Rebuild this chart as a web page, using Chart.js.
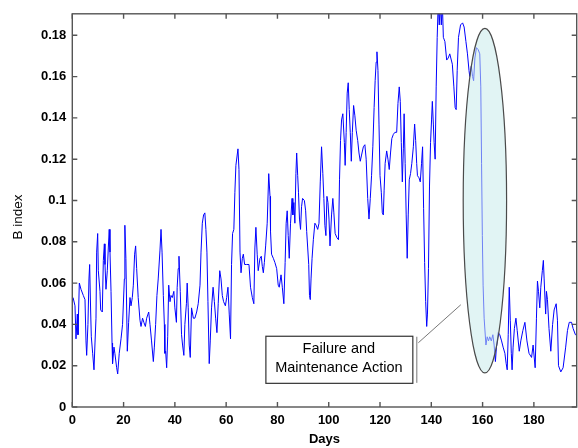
<!DOCTYPE html>
<html>
<head>
<meta charset="utf-8">
<title>B index</title>
<script src="https://cdn.jsdelivr.net/npm/chart.js@4.4.1/dist/chart.umd.min.js"></script>
<style>
  html, body { margin: 0; padding: 0; background: #fff; }
  #chart { display: block; }
</style>
</head>
<body>
<canvas id="chart" width="578" height="448"></canvas>
<script>
// readings, one vertex of the trace per entry
const days = [
  0.3,1.05,1.44,1.96,2.22,2.74,3.39,4.3,4.95,5.34,
  5.6,6.1,6.5,6.77,7.16,7.42,7.94,8.46,8.85,9.24,
  9.5,9.9,10.15,10.8,11.06,11.7,12.1,12.5,12.75,13.13,
  13.65,14.04,14.4,14.7,15.1,15.5,15.7,16.25,16.6,17.3,
  17.7,18.3,19.0,19.6,20.3,20.5,20.9,21.45,21.97,22.5,
  22.9,23.4,23.8,24.3,24.7,25.1,25.7,26.4,26.8,27.4,
  27.9,28.5,29.0,29.8,
  30.3,30.9,31.6,32.0,32.5,33.0,33.5,34.2,34.6,35.0,
  35.5,35.9,36.1,36.4,36.8,37.2,37.6,38.1,38.5,39.0,
  39.6,40.0,40.6,40.9,41.3,41.6,42.1,42.6,43.0,43.5,
  43.9,44.5,44.8,45.2,45.6,46.0,46.5,47.2,47.8,48.5,
  49.1,49.8,50.2,50.7,51.2,51.7,52.1,52.5,52.9,53.4,
  53.8,54.3,54.9,55.4,55.9,56.4,56.9,57.5,58.0,
  58.5,59.0,59.7,60.2,60.7,61.2,61.7,62.1,62.5,63.0,
  63.4,63.8,64.6,65.0,65.4,65.8,66.3,66.7,67.2,68.0,
  68.9,69.5,70.2,70.8,71.2,71.6,72.1,72.5,73.2,73.7,
  74.1,74.5,74.9,75.4,76.0,76.6,77.1,77.3,77.7,78.4,
  79.0,79.7,80.3,80.7,81.4,81.9,82.5,83.0,83.4,83.8,
  84.2,84.6,85.1,85.7,86.0,86.4,86.8,
  87.2,87.5,87.9,88.2,88.6,89.0,89.4,89.8,90.5,91.0,
  91.4,91.8,92.2,92.5,92.8,93.1,93.5,94.0,94.6,95.1,
  95.7,96.2,96.7,97.2,97.7,98.1,98.5,98.9,99.3,99.7,
  100.1,100.5,101.1,101.6,102.0,102.5,103.2,103.8,104.2,104.6,
  105.0,105.5,106.1,106.4,106.8,107.2,107.6,108.0,108.4,108.8,
  109.2,109.7,110.2,110.7,111.3,111.8,112.3,112.8,113.5,114.1,
  114.6,115.2,115.7,116.2,116.7,117.2,
  117.7,118.1,118.5,118.8,119.2,119.6,120.0,120.5,120.9,121.3,
  121.6,122.0,122.6,123.1,123.6,124.1,124.6,125.2,125.8,126.5,
  127.0,127.5,127.9,128.3,128.7,129.1,129.4,129.8,130.2,130.6,
  131.0,131.4,131.9,132.4,133.0,133.5,133.9,134.3,134.6,135.2,
  135.7,136.2,136.6,137.0,137.4,137.8,138.2,138.5,138.9,139.3,
  139.7,140.1,140.4,140.8,141.1,141.5,141.9,142.3,142.7,143.1,
  143.5,143.9,144.3,144.7,145.3,146.0,146.6,147.2,148.2,148.8,
  149.3,149.7,150.1,150.6,151.4,152.2,152.8,153.5,154.1,154.7,
  155.0,155.6,156.1,156.5,157.0,157.6,158.3,158.9,159.3,
  159.6,159.9,160.2,160.6,161.3,161.8,162.3,162.8,163.4,164.0,
  164.5,165.0,165.4,166.1,166.7,167.4,168.0,168.7,169.2,169.6,
  170.0,170.4,170.8,171.2,171.5,171.9,172.4,173.0,173.5,174.3,
  174.9,175.7,176.5,177.3,178.1,179.1,179.7,180.5,181.0,181.4,
  181.8,182.3,182.7,183.3,183.7,184.0,184.6,184.9,185.3,185.9,
  186.6,187.3,187.9,188.7,189.2,189.6,190.5,191.4,192.4,193.1,
  193.8,194.7,195.3,196.2,196.7
];
const bIndex = [
  0.053,0.049,0.033,0.045,0.035,0.060,0.057,0.054,0.052,0.032,
  0.025,0.040,0.062,0.069,0.046,0.034,0.026,0.018,0.031,0.043,
  0.075,0.084,0.066,0.056,0.047,0.046,0.071,0.079,0.069,0.057,
  0.066,0.077,0.086,0.075,0.056,0.031,0.021,0.029,0.026,0.019,
  0.016,0.026,0.033,0.040,0.062,0.088,0.072,0.027,0.041,0.053,
  0.049,0.053,0.059,0.074,0.078,0.067,0.053,0.042,0.039,0.043,
  0.041,0.039,0.043,0.046,
  0.040,0.032,0.022,0.029,0.040,0.054,0.062,0.076,0.086,0.075,
  0.054,0.040,0.026,0.027,0.019,0.034,0.059,0.051,0.054,0.053,
  0.056,0.048,0.041,0.058,0.067,0.073,0.056,0.035,0.030,0.025,
  0.040,0.050,0.060,0.048,0.030,0.024,0.048,0.043,0.043,0.046,
  0.050,0.059,0.075,0.089,0.093,0.094,0.086,0.075,0.051,0.021,
  0.032,0.048,0.058,0.051,0.043,0.036,0.050,0.066,0.062,
  0.054,0.051,0.049,0.053,0.058,0.045,0.033,0.069,0.084,0.086,
  0.104,0.117,0.125,0.115,0.075,0.065,0.072,0.074,0.069,0.069,
  0.069,0.058,0.053,0.050,0.077,0.087,0.074,0.066,0.072,0.073,
  0.068,0.065,0.070,0.078,0.089,0.113,0.102,0.085,0.074,0.072,
  0.070,0.067,0.059,0.058,0.064,0.058,0.050,0.070,0.089,0.095,
  0.083,0.072,0.089,0.101,0.093,0.099,0.089,
  0.113,0.123,0.112,0.104,0.091,0.086,0.097,0.101,0.100,0.095,
  0.085,0.077,0.069,0.054,0.052,0.062,0.072,0.081,0.089,0.088,
  0.086,0.089,0.109,0.126,0.113,0.101,0.088,0.083,0.102,0.099,
  0.091,0.078,0.093,0.101,0.094,0.084,0.082,0.081,0.110,0.129,
  0.139,0.142,0.128,0.117,0.133,0.152,0.157,0.144,0.133,0.119,
  0.133,0.146,0.141,0.134,0.129,0.123,0.119,0.122,0.126,0.127,
  0.120,0.101,0.091,0.101,0.112,0.126,
  0.145,0.158,0.167,0.172,0.163,0.137,0.112,0.104,0.094,0.093,
  0.105,0.118,0.124,0.120,0.115,0.123,0.130,0.132,0.133,0.133,
  0.147,0.155,0.148,0.128,0.109,0.125,0.142,0.118,0.093,0.072,
  0.093,0.110,0.113,0.118,0.126,0.137,0.129,0.118,0.112,0.111,
  0.109,0.118,0.126,0.096,0.070,0.051,0.039,0.045,0.067,0.107,
  0.128,0.139,0.148,0.137,0.128,0.120,0.155,0.179,0.196,0.185,
  0.196,0.185,0.196,0.179,0.177,0.168,0.169,0.171,0.166,0.155,
  0.145,0.144,0.163,0.179,0.185,0.186,0.184,0.177,0.171,0.163,
  0.160,0.165,0.160,0.158,0.169,0.174,0.173,0.171,0.155,
  0.118,0.083,0.059,0.043,0.030,0.034,0.032,0.034,0.032,0.035,
  0.030,0.022,0.029,0.036,0.035,0.032,0.029,0.026,0.021,0.018,
  0.035,0.058,0.042,0.026,0.018,0.029,0.038,0.043,0.037,0.027,
  0.032,0.037,0.041,0.032,0.026,0.024,0.030,0.019,0.043,0.061,
  0.056,0.048,0.058,0.066,0.071,0.062,0.045,0.056,0.052,0.038,
  0.027,0.040,0.047,0.050,0.042,0.020,0.017,0.019,0.029,0.037,
  0.041,0.041,0.038,0.035,0.035
];
const xTicks = [0, 20, 40, 60, 80, 100, 120, 140, 160, 180];
const yTicks = [0, 0.02, 0.04, 0.06, 0.08, 0.1, 0.12, 0.14, 0.16, 0.18];

// annotation, in data units
const failureZone = { day: 160.9, value: 0.0999, rDays: 8.46, rValue: 0.0834 };
const noteLines = ['Failure and', 'Maintenance Action'];
const noteBox = { x0: 75.3, x1: 132.6, y0: 0.0117, y1: 0.0345 };

const tickFont = { family: "'Liberation Sans', Arial, sans-serif", size: 13, weight: 'bold' };

const matlabAxes = {
  id: 'matlabAxes',
  afterDatasetsDraw(chart) {
    const { ctx, chartArea: a, scales: { x, y } } = chart;
    ctx.save();

    // shaded ellipse around the failure
    const cx = x.getPixelForValue(failureZone.day);
    const cy = y.getPixelForValue(failureZone.value);
    const rx = x.getPixelForValue(failureZone.day + failureZone.rDays) - cx;
    const ry = cy - y.getPixelForValue(failureZone.value + failureZone.rValue);
    ctx.beginPath();
    ctx.ellipse(cx, cy, rx, ry, 0, 0, Math.PI * 2);
    ctx.fillStyle = 'rgba(200, 235, 235, 0.55)';
    ctx.fill();
    ctx.strokeStyle = '#4a4a4a';
    ctx.lineWidth = 1.2;
    ctx.stroke();

    // callout box
    const bx0 = x.getPixelForValue(noteBox.x0), bx1 = x.getPixelForValue(noteBox.x1);
    const by0 = y.getPixelForValue(noteBox.y1), by1 = y.getPixelForValue(noteBox.y0);
    ctx.fillStyle = '#fff';
    ctx.fillRect(bx0, by0, bx1 - bx0, by1 - by0);
    ctx.strokeStyle = '#333';
    ctx.lineWidth = 1.2;
    ctx.strokeRect(bx0 + 0.5, by0 + 0.5, bx1 - bx0, by1 - by0);

    ctx.strokeStyle = '#777';
    ctx.lineWidth = 1;
    ctx.beginPath();
    ctx.moveTo(bx1 + 4.5, by0 + 1);
    ctx.lineTo(bx1 + 4.5, by1);
    ctx.stroke();
    ctx.beginPath();
    ctx.moveTo(bx1 + 6, by0 + 7);
    ctx.lineTo(x.getPixelForValue(151.5), y.getPixelForValue(0.0495));
    ctx.stroke();

    ctx.fillStyle = '#000';
    ctx.font = "14.5px 'Liberation Sans', Arial, sans-serif";
    ctx.textAlign = 'center';
    ctx.textBaseline = 'middle';
    const mx = (bx0 + bx1) / 2;
    ctx.fillText(noteLines[0], mx, by0 + 13.5);
    ctx.fillText(noteLines[1], mx, by0 + 32);

    // box and inward ticks on all four sides
    ctx.strokeStyle = '#555';
    ctx.lineWidth = 1.4;
    ctx.strokeRect(a.left, a.top, a.right - a.left, a.bottom - a.top);
    ctx.beginPath();
    xTicks.forEach(v => {
      const px = x.getPixelForValue(v);
      ctx.moveTo(px, a.bottom); ctx.lineTo(px, a.bottom - 5);
      ctx.moveTo(px, a.top); ctx.lineTo(px, a.top + 5);
    });
    yTicks.forEach(v => {
      const py = y.getPixelForValue(v);
      ctx.moveTo(a.left, py); ctx.lineTo(a.left + 5, py);
      ctx.moveTo(a.right, py); ctx.lineTo(a.right - 5, py);
    });
    ctx.stroke();

    // axis titles
    ctx.fillStyle = '#000';
    ctx.font = "bold 13px 'Liberation Sans', Arial, sans-serif";
    ctx.fillText('Days', (a.left + a.right) / 2, 439);
    ctx.translate(18, 217);
    ctx.rotate(-Math.PI / 2);
    ctx.font = "13.5px 'Liberation Sans', Arial, sans-serif";
    ctx.fillText('B index', 0, 0);
    ctx.restore();
  }
};

new Chart(document.getElementById('chart'), {
  type: 'line',
  data: {
    datasets: [{
      data: days.map((d, i) => ({ x: d, y: bIndex[i] })),
      borderColor: '#0000ff',
      borderWidth: 1,
      pointRadius: 0,
      tension: 0,
      fill: false
    }]
  },
  options: {
    responsive: false,
    animation: false,
    parsing: false,
    layout: { padding: { top: 9, right: 1.3, left: 0, bottom: 0 } },
    plugins: { legend: { display: false }, tooltip: { enabled: false } },
    scales: {
      x: {
        type: 'linear',
        min: 0,
        max: 196.7,
        grid: { display: false, drawTicks: false },
        border: { display: false },
        afterBuildTicks: s => { s.ticks = xTicks.map(v => ({ value: v })); },
        afterFit: s => { s.height = 41; },
        ticks: { color: '#000', font: tickFont, padding: 6, maxRotation: 0, autoSkip: false }
      },
      y: {
        type: 'linear',
        min: 0,
        max: 0.1904,
        grid: { display: false, drawTicks: false },
        border: { display: false },
        afterBuildTicks: s => { s.ticks = yTicks.map(v => ({ value: v })); },
        afterFit: s => { s.width = 72.3; },
        ticks: {
          color: '#000',
          font: tickFont,
          padding: 6,
          autoSkip: false,
          callback: v => String(Number(v.toFixed(2)))
        }
      }
    }
  },
  plugins: [matlabAxes]
});
</script>
</body>
</html>
